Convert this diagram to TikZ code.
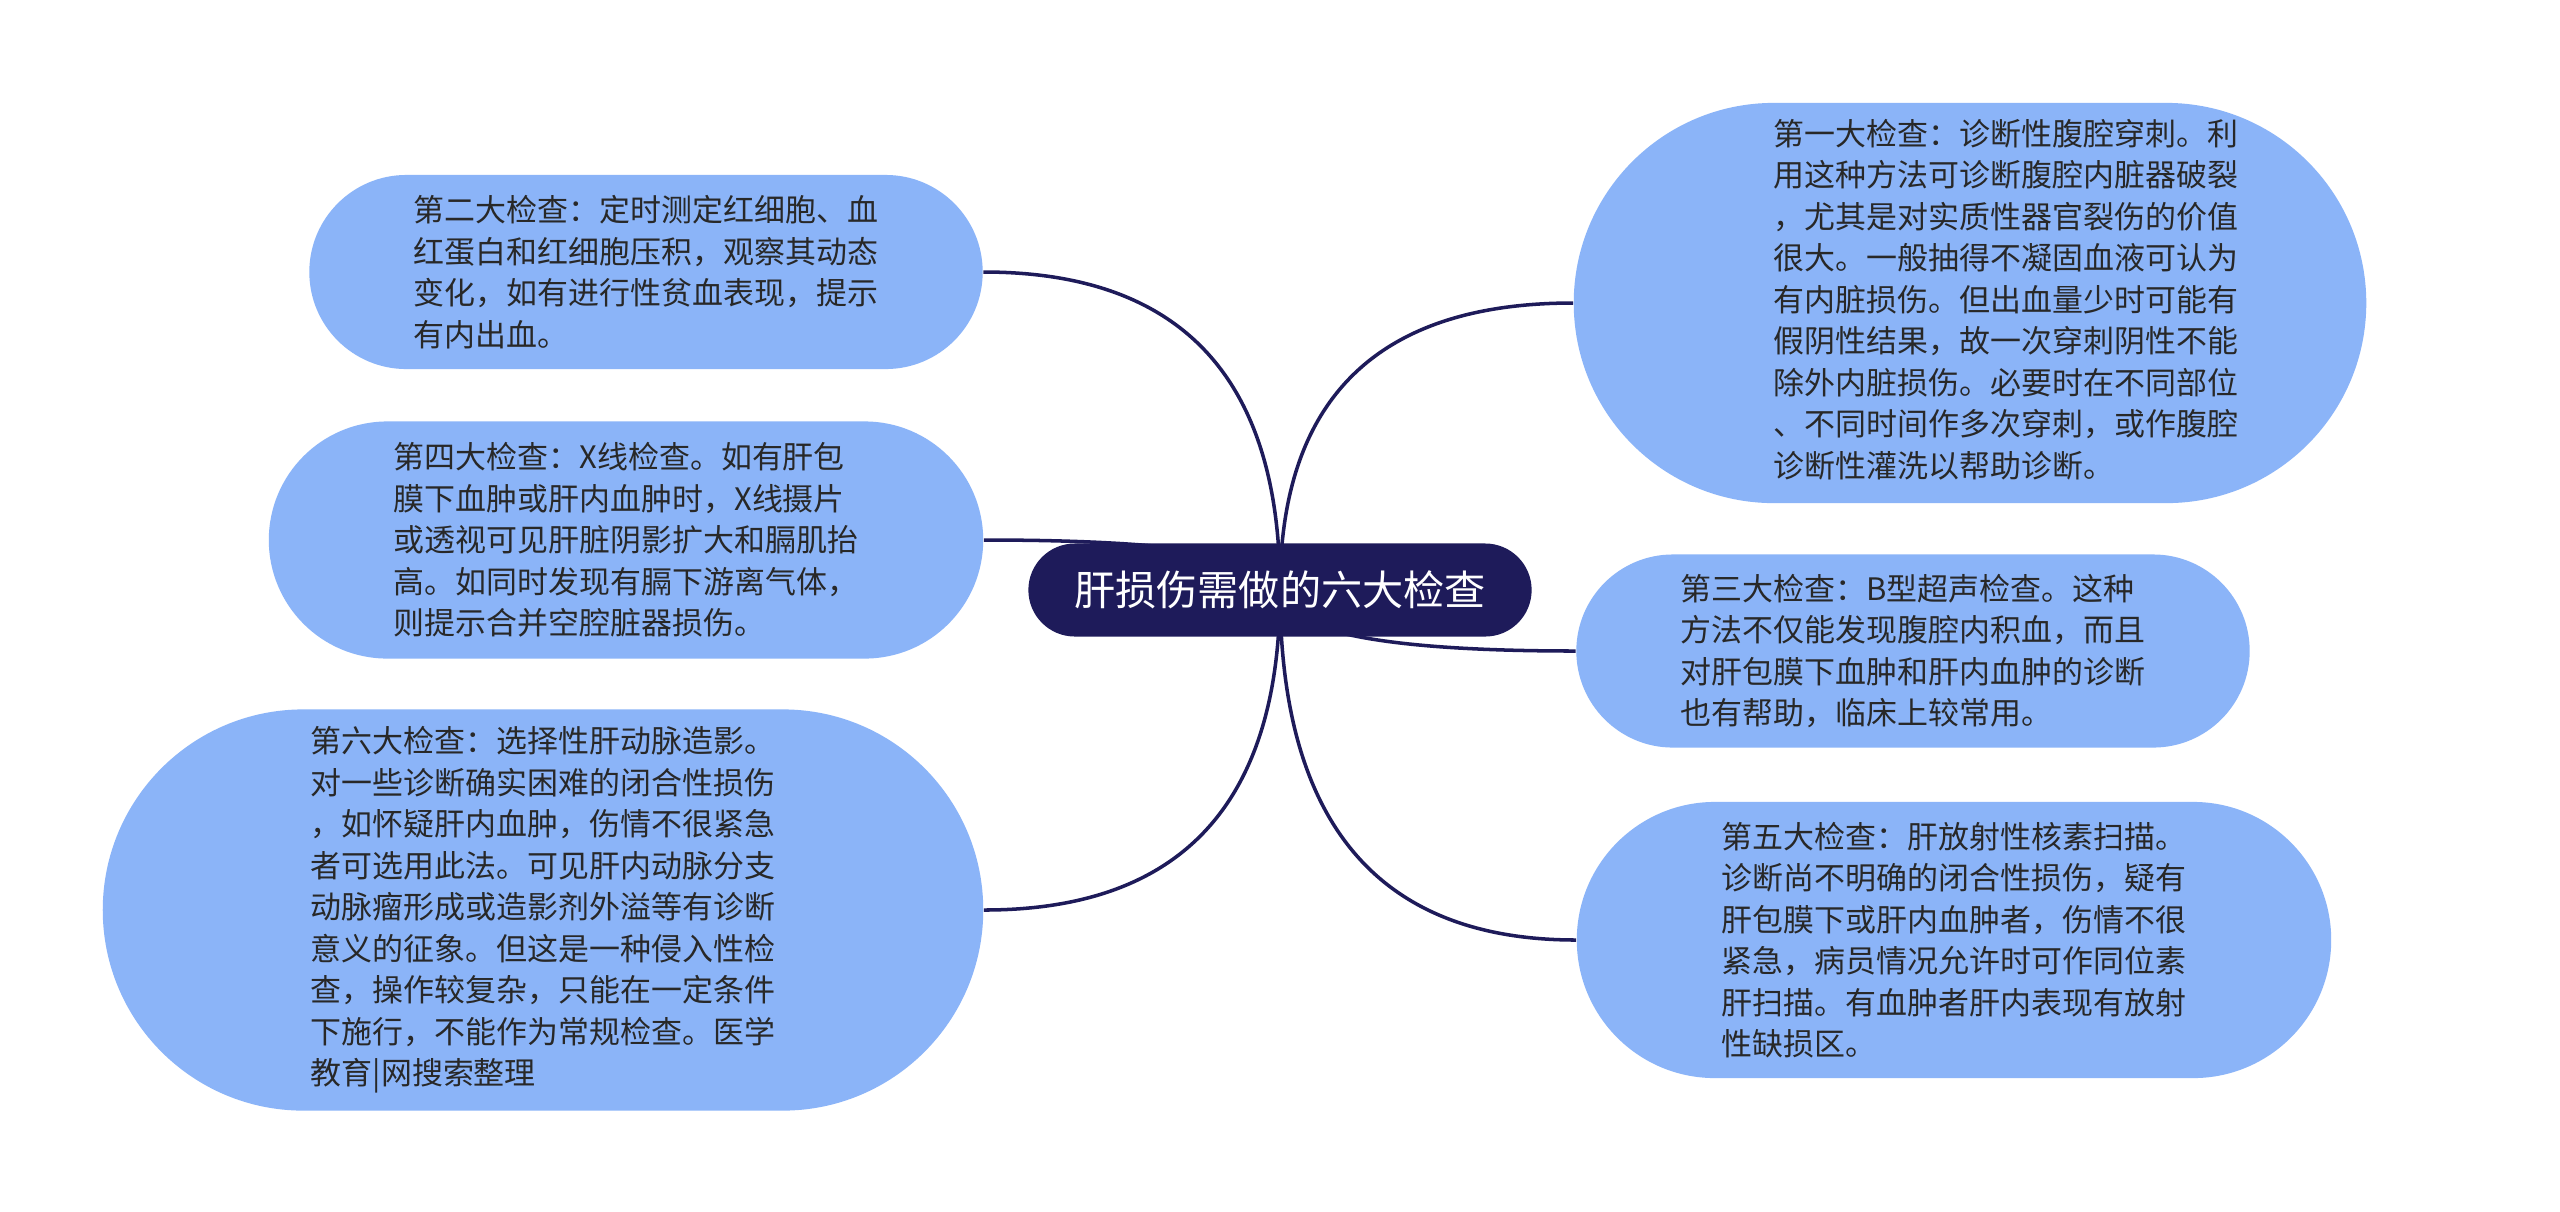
\documentclass[tikz,border=0pt]{standalone}
\usepackage{fontspec}
\usepackage{tikz}
\usetikzlibrary{shapes.misc,calc,backgrounds}
\newfontfamily\cjk{Noto Sans CJK SC}
\definecolor{hubblue}{RGB}{30,27,90}
\definecolor{leafblue}{RGB}{139,180,248}
\definecolor{leaftext}{RGB}{40,40,40}

\begin{document}
\begin{tikzpicture}[x=0.01cm,y=-0.01cm,
  hub/.style={rounded rectangle,fill=hubblue,text=white,inner sep=0pt,
    font=\cjk\fontsize{11.7}{14}\selectfont,minimum width=5.03cm,minimum height=0.93cm},
  leaf/.style={rounded rectangle,fill=leafblue,text=leaftext,inner sep=0pt,align=left,
    font=\cjk\fontsize{8.8}{11.8}\selectfont},
  branch/.style={draw=hubblue,line width=1pt}]
\useasboundingbox (0,0) rectangle (2560,1211);

% Center topic
\node[hub] (hub) at (1280,590) {肝损伤需做的六大检查};

% Right side
\node[leaf,minimum width=7.87cm,minimum height=4cm] (one) at (1970,303) {\hspace{0.72cm}\begin{tabular}{@{}l@{}}第一大检查：诊断性腹腔穿刺。利\\用这种方法可诊断腹腔内脏器破裂\\，尤其是对实质性器官裂伤的价值\\很大。一般抽得不凝固血液可认为\\有内脏损伤。但出血量少时可能有\\假阴性结果，故一次穿刺阴性不能\\除外内脏损伤。必要时在不同部位\\、不同时间作多次穿刺，或作腹腔\\诊断性灌洗以帮助诊断。\end{tabular}};
\node[leaf,minimum width=6.73cm,minimum height=1.93cm] (three) at (1913,651) {第三大检查：B型超声检查。这种\\方法不仅能发现腹腔内积血，而且\\对肝包膜下血肿和肝内血肿的诊断\\也有帮助，临床上较常用。};
\node[leaf,minimum width=7.54cm,minimum height=2.76cm] (five) at (1954,940) {第五大检查：肝放射性核素扫描。\\诊断尚不明确的闭合性损伤，疑有\\肝包膜下或肝内血肿者，伤情不很\\紧急，病员情况允许时可作同位素\\肝扫描。有血肿者肝内表现有放射\\性缺损区。};

% Left side
\node[leaf,minimum width=6.73cm,minimum height=1.94cm] (two) at (646,272) {第二大检查：定时测定红细胞、血\\红蛋白和红细胞压积，观察其动态\\变化，如有进行性贫血表现，提示\\有内出血。};
\node[leaf,minimum width=7.14cm,minimum height=2.37cm] (four) at (626,540) {第四大检查：X线检查。如有肝包\\膜下血肿或肝内血肿时，X线摄片\\或透视可见肝脏阴影扩大和膈肌抬\\高。如同时发现有膈下游离气体，\\则提示合并空腔脏器损伤。};
\node[leaf,minimum width=8.8cm,minimum height=4.01cm] (six) at (543,910) {第六大检查：选择性肝动脉造影。\\对一些诊断确实困难的闭合性损伤\\，如怀疑肝内血肿，伤情不很紧急\\者可选用此法。可见肝内动脉分支\\动脉瘤形成或造影剂外溢等有诊断\\意义的征象。但这是一种侵入性检\\查，操作较复杂，只能在一定条件\\下施行，不能作为常规检查。医学\\教育|网搜索整理};

% Branches
\begin{scope}[on background layer]
\fill[white] (0,0) rectangle (2560,1211);
\foreach \n/\a in {one/west,two/east,three/west,four/east,five/west,six/east}
  \draw[branch] (hub.center) .. controls ($(hub.center)!0.667!(hub.center |- \n.\a)$)
    and ($(\n.\a)!0.667!(hub.center |- \n.\a)$) .. (\n.\a);
\end{scope}
\end{tikzpicture}
\end{document}
